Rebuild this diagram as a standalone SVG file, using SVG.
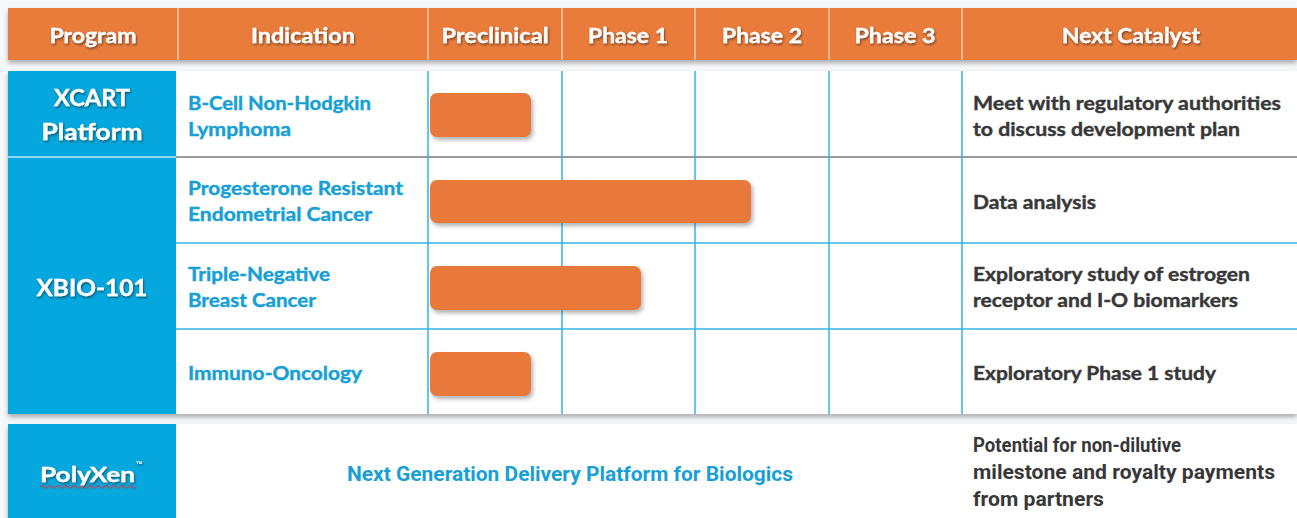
<svg xmlns="http://www.w3.org/2000/svg" width="1297" height="518" viewBox="0 0 1297 518">
<defs>
<style>
.hdr{font-family:Lato,"Open Sans","Liberation Sans",sans-serif;font-weight:bold;font-size:20px;fill:#ffffff;stroke:#ffffff;stroke-width:0.3;text-anchor:middle}
.prog{font-family:Lato,"Open Sans","Liberation Sans",sans-serif;font-weight:bold;font-size:22px;fill:#ffffff;stroke:#ffffff;stroke-width:0.3;text-anchor:middle}
.ind{font-family:Lato,"Open Sans","Liberation Sans",sans-serif;font-weight:bold;font-size:18px;fill:#179fd6;stroke:#179fd6;stroke-width:0.4}
.cat{font-family:Lato,"Open Sans","Liberation Sans",sans-serif;font-weight:bold;font-size:18px;fill:#383838;stroke:#383838;stroke-width:0.4}
.cond{font-family:Roboto,Lato,"Liberation Sans",sans-serif;font-weight:bold;font-size:20px}
.grid{stroke:#35b2e0;stroke-width:1.5;fill:none}
.bar{fill:#e8793a}
.blue{fill:#05a8de}
.orange{fill:#e97b3b}
</style>
<filter id="sh" x="-5%" y="-20%" width="110%" height="150%">
<feDropShadow dx="0" dy="3" stdDeviation="2.5" flood-color="#6b6b6b" flood-opacity="0.55"/>
</filter>
<filter id="bsh" x="-10%" y="-20%" width="120%" height="160%">
<feDropShadow dx="2" dy="3" stdDeviation="2" flood-color="#555" flood-opacity="0.45"/>
</filter>
<filter id="tsh" x="-10%" y="-20%" width="120%" height="160%">
<feDropShadow dx="1" dy="1.5" stdDeviation="1" flood-color="#1a1a1a" flood-opacity="0.6"/>
</filter>
</defs>
<rect x="0" y="0" width="1297" height="518" fill="#f6f8f9"/>

<!-- header -->
<g id="header">
<rect class="orange" x="8" y="8" width="1289" height="52" filter="url(#sh)"/>
<g stroke="#f6c7a4" stroke-width="1.5">
<line x1="178" y1="8" x2="178" y2="60"/>
<line x1="428" y1="8" x2="428" y2="60"/>
<line x1="562" y1="8" x2="562" y2="60"/>
<line x1="695" y1="8" x2="695" y2="60"/>
<line x1="829" y1="8" x2="829" y2="60"/>
<line x1="962" y1="8" x2="962" y2="60"/>
</g>
<g filter="url(#tsh)">
<text class="hdr" x="93" y="43" textLength="87" lengthAdjust="spacingAndGlyphs">Program</text>
<text class="hdr" x="303" y="43" textLength="104" lengthAdjust="spacingAndGlyphs">Indication</text>
<text class="hdr" x="495" y="43" textLength="107" lengthAdjust="spacingAndGlyphs">Preclinical</text>
<text class="hdr" x="628" y="43" textLength="80" lengthAdjust="spacingAndGlyphs">Phase 1</text>
<text class="hdr" x="762" y="43" textLength="80" lengthAdjust="spacingAndGlyphs">Phase 2</text>
<text class="hdr" x="895" y="43" textLength="81" lengthAdjust="spacingAndGlyphs">Phase 3</text>
<text class="hdr" x="1131" y="43" textLength="138" lengthAdjust="spacingAndGlyphs">Next Catalyst</text>
</g>
</g>

<!-- main table body -->
<g id="body">
<rect x="8" y="71" width="1289" height="343" fill="#ffffff" filter="url(#sh)"/>
<rect class="blue" x="8" y="71" width="168" height="343"/>
<line x1="8" y1="157" x2="176" y2="157" stroke="#8fdaf3" stroke-width="2"/>
<line x1="176" y1="157" x2="1297" y2="157" stroke="#9a9a9a" stroke-width="2"/>
</g>

<g id="connectors">
<g class="grid">
<line x1="428" y1="71" x2="428" y2="414"/>
<line x1="562" y1="71" x2="562" y2="414"/>
<line x1="695" y1="71" x2="695" y2="414"/>
<line x1="829" y1="71" x2="829" y2="414"/>
<line x1="962" y1="71" x2="962" y2="414"/>
<line x1="176" y1="243" x2="1297" y2="243"/>
<line x1="176" y1="329" x2="1297" y2="329"/>
<line x1="962" y1="424" x2="962" y2="518"/>
</g>
</g>

<g id="prog-xcart">
<text class="prog" x="92" y="106" filter="url(#tsh)" textLength="76" lengthAdjust="spacingAndGlyphs">XCART</text>
<text class="prog" x="92" y="140" filter="url(#tsh)" textLength="101" lengthAdjust="spacingAndGlyphs">Platform</text>
</g>
<g id="prog-xbio">
<text class="prog" x="92" y="296" filter="url(#tsh)" textLength="111" lengthAdjust="spacingAndGlyphs">XBIO-101</text>
</g>

<g id="row-bcell">
<text class="ind" x="188" y="110" textLength="183" lengthAdjust="spacingAndGlyphs">B-Cell Non-Hodgkin</text>
<text class="ind" x="188" y="136" textLength="103" lengthAdjust="spacingAndGlyphs">Lymphoma</text>
<rect class="bar" x="430" y="93" width="101" height="44" rx="7" filter="url(#bsh)"/>
<text class="cat" x="973" y="110" textLength="308" lengthAdjust="spacingAndGlyphs">Meet with regulatory authorities</text>
<text class="cat" x="973" y="136" textLength="267" lengthAdjust="spacingAndGlyphs">to discuss development plan</text>
</g>

<g id="row-endometrial">
<text class="ind" x="188" y="195" textLength="215" lengthAdjust="spacingAndGlyphs">Progesterone Resistant</text>
<text class="ind" x="188" y="221" textLength="184" lengthAdjust="spacingAndGlyphs">Endometrial Cancer</text>
<rect class="bar" x="430" y="180" width="321" height="43" rx="7" filter="url(#bsh)"/>
<text class="cat" x="973" y="209" textLength="123" lengthAdjust="spacingAndGlyphs">Data analysis</text>
</g>

<g id="row-tnbc">
<text class="ind" x="188" y="281" textLength="142" lengthAdjust="spacingAndGlyphs">Triple-Negative</text>
<text class="ind" x="188" y="307" textLength="128" lengthAdjust="spacingAndGlyphs">Breast Cancer</text>
<rect class="bar" x="430" y="266" width="211" height="44" rx="7" filter="url(#bsh)"/>
<text class="cat" x="973" y="281" textLength="277" lengthAdjust="spacingAndGlyphs">Exploratory study of estrogen</text>
<text class="cat" x="973" y="307" textLength="265" lengthAdjust="spacingAndGlyphs">receptor and I-O biomarkers</text>
</g>

<g id="row-io">
<text class="ind" x="188" y="380" textLength="174" lengthAdjust="spacingAndGlyphs">Immuno-Oncology</text>
<rect class="bar" x="430" y="352" width="101" height="44" rx="7" filter="url(#bsh)"/>
<text class="cat" x="973" y="380" textLength="243" lengthAdjust="spacingAndGlyphs">Exploratory Phase 1 study</text>
</g>

<!-- PolyXen section -->
<g id="polyxen">
<rect x="8" y="424" width="1289" height="100" fill="#ffffff" filter="url(#sh)"/>
<rect class="blue" x="8" y="424" width="168" height="100"/>
<g filter="url(#tsh)">
<text class="prog" x="40" y="482" style="text-anchor:start;font-size:21px" textLength="95" lengthAdjust="spacingAndGlyphs">PolyXen</text>
<text x="136" y="468" style="font-family:Lato,'Liberation Sans',sans-serif;font-weight:bold;font-size:9px;fill:#ffffff">™</text>
</g>
<path d="M40 487 q2 -2.5 4 0 t4 0 t4 0 t4 0 t4 0 t4 0 t4 0 t4 0 t4 0 t4 0 t4 0 t4 0 t4 0 t4 0 t4 0 t4 0 t4 0 t4 0 t4 0 t4 0 t4 0 t4 0 t4 0 t4 0" fill="none" stroke="#d9363e" stroke-width="1.2"/>
<text class="cond" x="570" y="481" style="fill:#179fd6;text-anchor:middle" textLength="446" lengthAdjust="spacingAndGlyphs">Next Generation Delivery Platform for Biologics</text>
<text class="cond" x="973" y="452" style="fill:#383838" textLength="208" lengthAdjust="spacingAndGlyphs">Potential for non-dilutive</text>
<text class="cond" x="973" y="479" style="fill:#383838" textLength="302" lengthAdjust="spacingAndGlyphs">milestone and royalty payments</text>
<text class="cond" x="973" y="506" style="fill:#383838" textLength="131" lengthAdjust="spacingAndGlyphs">from partners</text>
</g>
</svg>
